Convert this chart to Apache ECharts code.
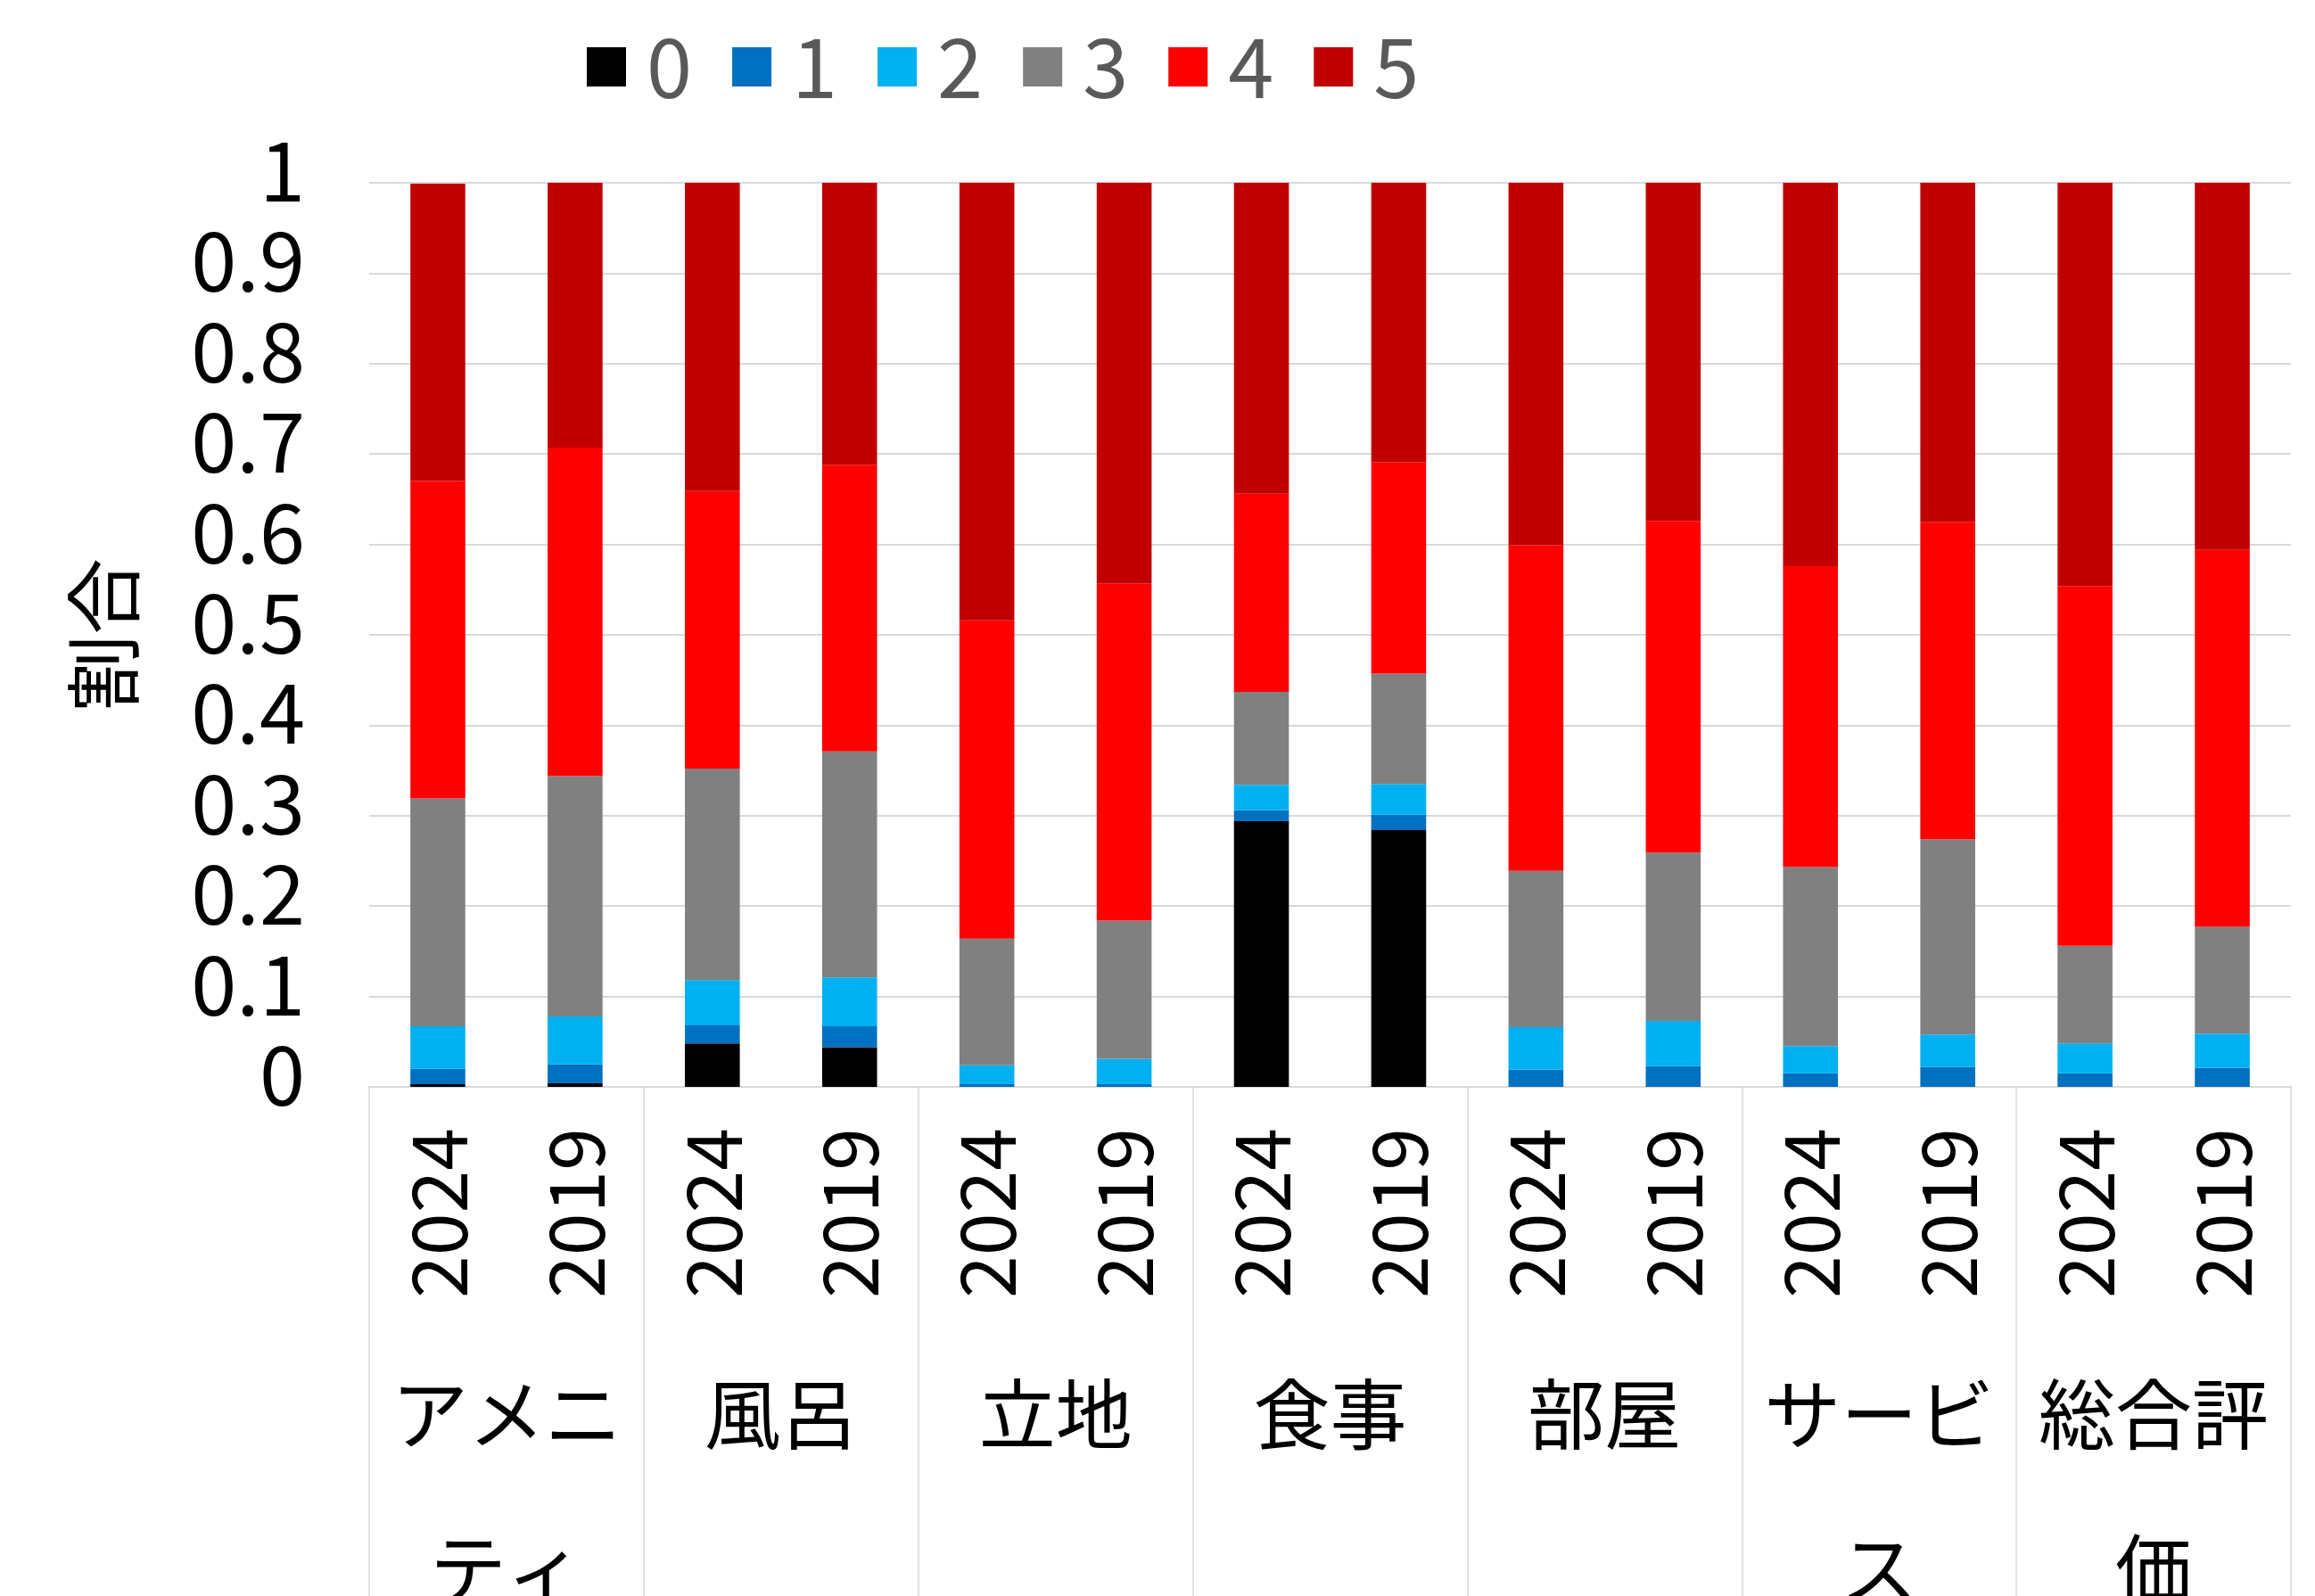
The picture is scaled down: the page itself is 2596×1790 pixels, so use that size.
<!DOCTYPE html>
<html>
<head>
<meta charset="utf-8">
<script src="https://cdn.jsdelivr.net/npm/echarts@6/dist/echarts.min.js"></script>
<style>
  html, body { margin: 0; padding: 0; background: #fff; }
  #chart { width: 2596px; height: 1790px; }
</style>
</head>
<body>
<div id="chart"></div>
<script>
// categories
const groups = ['アメニ\nティ', '風呂', '立地', '食事', '部屋', 'サービ\nス', '総合評\n価'];
const years = ['2024', '2019', '2024', '2019', '2024', '2019', '2024', '2019', '2024', '2019', '2024', '2019', '2024', '2019'];
const ratings = ['0', '1', '2', '3', '4', '5'];
const colors = ['#000000', '#0070C0', '#00B0F0', '#808080', '#FF0000', '#C00000'];

// shares per rating, one value per bar (group x year)
const r0 = [0.003, 0.004, 0.048, 0.044, 0, 0, 0.294, 0.284, 0, 0, 0, 0, 0, 0];
const r1 = [0.017, 0.021, 0.020, 0.023, 0.003, 0.003, 0.012, 0.017, 0.019, 0.023, 0.015, 0.022, 0.015, 0.021];
const r2 = [0.047, 0.053, 0.050, 0.054, 0.021, 0.028, 0.028, 0.034, 0.047, 0.050, 0.030, 0.036, 0.033, 0.038];
const r3 = [0.252, 0.266, 0.234, 0.250, 0.140, 0.153, 0.103, 0.122, 0.173, 0.186, 0.198, 0.216, 0.108, 0.118];
const r4 = [0.351, 0.363, 0.307, 0.317, 0.352, 0.373, 0.219, 0.234, 0.360, 0.367, 0.333, 0.351, 0.398, 0.417];
const r5 = [0.329, 0.293, 0.341, 0.312, 0.484, 0.443, 0.344, 0.309, 0.401, 0.374, 0.424, 0.375, 0.446, 0.406];
const seriesData = [r0, r1, r2, r3, r4, r5];

const font = '"Noto Sans CJK JP", "Noto Sans", sans-serif';
const chart = echarts.init(document.getElementById('chart'), null, { renderer: 'canvas' });

const option = {
  animation: false,
  textStyle: { fontFamily: font },
  color: colors,
  legend: {
    data: ratings,
    left: 653,
    top: 24,
    itemWidth: 44,
    itemHeight: 44,
    itemGap: 45,
    icon: 'rect',
    textStyle: { fontSize: 92, color: '#595959', fontFamily: font, padding: [0, 0, 0, 18] },
  },
  grid: {
    left: 414,
    right: 27,
    top: 205,
    bottom: 571,
    containLabel: false,
    outerBoundsMode: 'none',
  },
  xAxis: [
    {
      type: 'category',
      data: years,
      axisLine: { show: true, lineStyle: { color: '#d9d9d9', width: 2 } },
      axisTick: { show: false },
      axisLabel: {
        interval: 0,
        rotate: 90,
        margin: 46,
        fontSize: 86,
        color: '#000',
        fontFamily: font,
      },
    },
    {
      // group labels + long separators between groups
      type: 'category',
      data: groups,
      position: 'bottom',
      axisLine: { show: false },
      axisTick: {
        show: true,
        interval: 0,
        length: 580,
        lineStyle: { color: '#d9d9d9', width: 1.5 },
      },
      axisLabel: {
        interval: 0,
        margin: 280,
        fontSize: 86,
        lineHeight: 174,
        color: '#000',
        fontFamily: font,
      },
    },
  ],
  yAxis: {
    type: 'value',
    min: 0,
    max: 1,
    interval: 0.1,
    name: '割合',
    nameLocation: 'middle',
    nameRotate: 90,
    nameGap: 255,
    nameTextStyle: { fontSize: 86, color: '#000', fontFamily: font },
    axisLine: { show: false },
    axisTick: { show: false },
    axisLabel: {
      margin: 72,
      color: '#000',
      fontFamily: font,
      formatter: v => '{t|' + String(Number(v.toFixed(1))) + '}',
      rich: {
        t: { fontSize: 92, color: '#000', fontFamily: font, padding: [0, 0, 28, 0] },
      },
    },
    splitLine: { lineStyle: { color: '#d9d9d9', width: 2 } },
  },
  series: ratings.map((name, i) => ({
    name,
    type: 'bar',
    stack: 'total',
    xAxisIndex: 0,
    barWidth: '40%',
    itemStyle: { color: colors[i] },
    data: seriesData[i],
  })),
};

chart.setOption(option);
</script>
</body>
</html>
